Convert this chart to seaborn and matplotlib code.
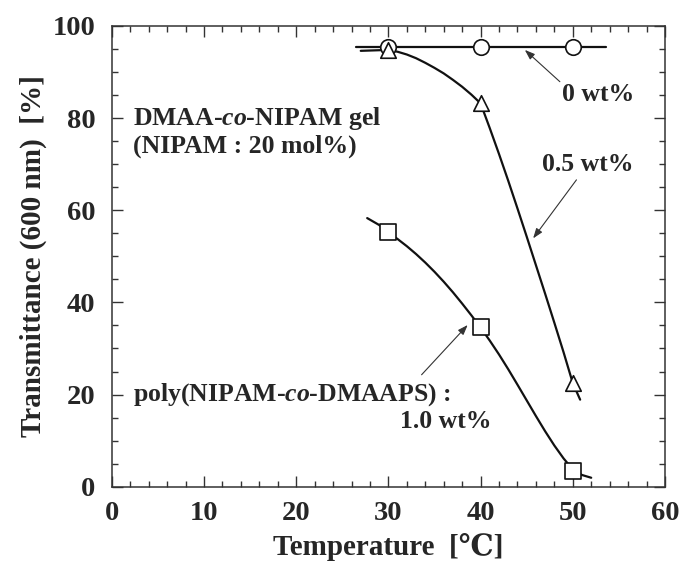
import numpy as np
import matplotlib.pyplot as plt
import seaborn as sns
import pandas as pd

# valores
temperatura = [30, 40, 50]
trans_0wt = [95.5, 95.5, 95.5]
trans_05wt = [94.8, 83.2, 22.5]
trans_10wt = [55.2, 34.6, 3.5]

# curvas desenhadas a mao no original (pontos lidos ao longo da linha)
curva_0wt_x = [26.5, 53.6]
curva_0wt_y = [95.5, 95.5]
curva_05wt_x = [27.0, 30, 31, 32, 33, 34, 35, 36, 37, 38, 39, 40,
                41, 42, 43, 44, 45, 46, 47, 48, 49, 50, 50.8]
curva_05wt_y = [94.6, 94.8, 94.4, 93.8, 93.0, 92.0, 90.9, 89.7, 88.3, 86.8, 85.1, 83.2,
                77.8, 72.2, 66.4, 60.4, 54.3, 48.1, 41.9, 35.6, 29.2, 22.5, 18.9]
curva_10wt_x = [27.7, 29, 30, 31, 32, 33, 34, 35, 36, 37, 38, 39, 40,
                41, 42, 43, 44, 45, 46, 47, 48, 49, 50, 51, 52]
curva_10wt_y = [58.3, 56.8, 55.2, 53.75, 52.2, 50.5, 48.65, 46.65, 44.5, 42.2, 39.75, 37.2, 34.55,
                31.7, 28.7, 25.5, 22.15, 18.75, 15.35, 12.05, 8.95, 6.15, 3.75, 2.55, 1.95]

sns.set_theme(style='ticks')
plt.rcParams['font.family'] = ['Liberation Serif', 'DejaVu Serif']
plt.rcParams['font.weight'] = 'bold'
plt.rcParams['mathtext.fontset'] = 'custom'
plt.rcParams['mathtext.rm'] = 'Liberation Serif:bold'
plt.rcParams['mathtext.it'] = 'Liberation Serif:bold:italic'

fig, ax = plt.subplots(figsize=(6.82, 5.64), dpi=100)
fig.subplots_adjust(left=0.164, right=0.975, top=0.954, bottom=0.137)

cor = '#111111'
for cx, cy in [(curva_0wt_x, curva_0wt_y), (curva_05wt_x, curva_05wt_y), (curva_10wt_x, curva_10wt_y)]:
    sns.lineplot(x=cx, y=cy, ax=ax, color=cor, linewidth=1.6, sort=False, estimator=None, zorder=2)

for ys, m in [(trans_0wt, 'o'), (trans_05wt, '^'), (trans_10wt, 's')]:
    sns.scatterplot(x=temperatura, y=ys, ax=ax, marker=m, s=125, facecolor='white',
                    edgecolor=cor, linewidth=1.2, zorder=3)

ax.set_xlim(0, 60)
ax.set_ylim(0, 100)
ax.set_xticks(np.arange(0, 61, 10))
ax.set_xticks(np.arange(0, 61, 2), minor=True)
ax.set_yticks(np.arange(0, 101, 20))
ax.set_yticks(np.arange(0, 101, 5), minor=True)
ax.tick_params(which='both', direction='in', top=True, right=True, color='#333333', width=1.0)
ax.tick_params(which='major', length=8, labelsize=20.5)
ax.tick_params(which='minor', length=4.5)
ax.tick_params(axis='x', which='major', pad=10)
ax.tick_params(axis='y', which='major', pad=12)
for s in ax.spines.values():
    s.set_color('#333333')
    s.set_linewidth(1.1)
for lbl in ax.get_xticklabels() + ax.get_yticklabels():
    lbl.set_fontweight('bold')

ax.set_xlabel('Temperature  [\u2103]', fontsize=21, fontweight='bold', labelpad=5)
ax.set_ylabel('Transmittance (600 nm)  [%]', fontsize=21, fontweight='bold', labelpad=4)

fs = 18.5
ax.text(2.3, 80, 'DMAA-$\\mathit{co}$-NIPAM gel', fontsize=fs, fontweight='bold', va='center')
ax.text(2.3, 73.8, '(NIPAM : 20 mol%)', fontsize=fs, fontweight='bold', va='center')
ax.text(2.3, 20, 'poly(NIPAM-$\\mathit{co}$-DMAAPS) :', fontsize=fs, fontweight='bold', va='center')
ax.text(36.2, 14.1, '1.0 wt%', fontsize=fs, fontweight='bold', va='center', ha='center')
ax.text(52.7, 85.2, '0 wt%', fontsize=fs, fontweight='bold', va='center', ha='center')
ax.text(51.6, 70.0, '0.5 wt%', fontsize=fs, fontweight='bold', va='center', ha='center')

seta = dict(arrowstyle='-|>,head_length=0.5,head_width=0.18', color='#333333', linewidth=0.8,
            shrinkA=0, shrinkB=0)
ax.annotate('', xy=(44.8, 94.8), xytext=(48.6, 87.9), arrowprops=seta)
ax.annotate('', xy=(45.7, 53.9), xytext=(50.4, 66.6), arrowprops=seta)
ax.annotate('', xy=(38.6, 35.1), xytext=(33.6, 24.3), arrowprops=seta)

fig.savefig('out.png', dpi=100)
